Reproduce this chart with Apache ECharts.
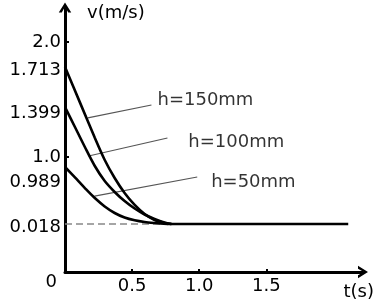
<!DOCTYPE html>
<html>
<head>
<meta charset="utf-8">
<script src="https://cdn.jsdelivr.net/npm/echarts@6/dist/echarts.min.js"></script>
<style>
  html, body { margin: 0; padding: 0; background: #fff; }
  #chart1 { width: 377px; height: 305px; }
</style>
</head>
<body>
<div id="chart1"></div>
<script>
// 그림 자체가 비례가 안 맞는 개략도라서 y는 그림 위치 기준 값, 눈금 글자는 따로 둠
const yTickPos = [0, 0.39, 0.78, 1.0, 1.383, 1.757, 2.0];
const yTickText = ['0', '0.018', '0.989', '1.0', '1.399', '1.713', '2.0'];
const yTickMarks = [1.0, 2.0];
const xTicks = [0.5, 1.0, 1.5];

// h=150mm
const t150 = [0, 0.111, 0.222, 0.296, 0.37, 0.444, 0.519, 0.593, 0.667, 0.741, 0.793];
const v150 = [1.783, 1.475, 1.167, 0.974, 0.817, 0.687, 0.583, 0.504, 0.452, 0.426, 0.417];
// h=100mm
const t100 = [0, 0.074, 0.148, 0.222, 0.296, 0.37, 0.444, 0.519, 0.593, 0.667, 0.741, 0.793];
const v100 = [1.435, 1.261, 1.087, 0.922, 0.791, 0.696, 0.617, 0.552, 0.5, 0.461, 0.43, 0.417];
// h=50mm
const t50 = [0, 0.074, 0.148, 0.222, 0.296, 0.37, 0.444, 0.519, 0.593, 0.667, 0.763];
const v50 = [0.913, 0.822, 0.73, 0.643, 0.57, 0.513, 0.474, 0.45, 0.435, 0.426, 0.417];
// 정상상태 (0.018)
const tFlat = [0.76, 2.11];
const vFlat = [0.417, 0.417];
const tDash = [0, 0.76];
const vDash = [0.417, 0.417];

// 지시선, 글자 위치
const hNames = ['h=150mm', 'h=100mm', 'h=50mm'];
const leadFrom = [[0.17, 1.34], [0.176, 1.009], [0.22, 0.66]];
const leadTo = [[0.644, 1.452], [0.763, 1.165], [0.985, 0.826]];
const nameAt = [[0.689, 1.496], [0.919, 1.13], [1.089, 0.783]];

const FONT = 'DejaVu Sans';
const zip = (xs, ys) => xs.map((x, i) => [x, ys[i]]);
const arrowPath = 'path://M5,0 L10,8 L7.6,8 L5,3.4 L2.4,8 L0,8 Z';

const curve = (name, xs, ys) => ({
  name: name,
  type: 'line',
  data: zip(xs, ys),
  smooth: 0.3,
  showSymbol: false,
  lineStyle: { color: '#000', width: 2.6 },
  z: 3
});

let series = [
  {
    type: 'line',
    data: zip(tDash, vDash),
    showSymbol: false,
    lineStyle: { color: '#888', width: 1.5, type: [7, 4] },
    z: 1
  },
  curve('h=150mm', t150, v150),
  curve('h=100mm', t100, v100),
  curve('h=50mm', t50, v50),
  {
    type: 'line',
    data: zip(tFlat, vFlat),
    showSymbol: false,
    lineStyle: { color: '#000', width: 2.6 },
    z: 3
  }
];

hNames.forEach((nm, i) => {
  series.push({
    type: 'line',
    data: [leadFrom[i], leadTo[i]],
    showSymbol: false,
    lineStyle: { color: '#555', width: 1.2 },
    z: 2
  });
});

series.push({
  type: 'scatter',
  data: nameAt.map((p, i) => ({ value: p, name: hNames[i] })),
  symbolSize: 0,
  label: {
    show: true,
    position: 'right',
    distance: 0,
    formatter: p => p.name,
    fontFamily: FONT,
    fontSize: 18,
    color: '#000'
  }
});

let myChart = echarts.init(document.getElementById('chart1'), null, { renderer: 'canvas' });
let option = {
  animation: false,
  grid: { left: 65, right: 12, top: 7.5, bottom: 33 },
  xAxis: {
    type: 'value',
    min: 0,
    max: 2.22,
    name: 't(s)',
    nameLocation: 'end',
    nameGap: 11,
    nameTextStyle: { fontFamily: FONT, fontSize: 18, color: '#000', align: 'right', verticalAlign: 'top', padding: [11, 0, 0, 0] },
    axisLine: { lineStyle: { color: '#000', width: 3 }, symbol: ['none', arrowPath], symbolSize: [14, 10] },
    axisTick: { show: true, inside: true, length: 3, lineStyle: { width: 2, color: '#000' }, customValues: xTicks },
    axisLabel: {
      customValues: xTicks,
      margin: 5,
      fontFamily: FONT, fontSize: 18, color: '#000',
      formatter: v => v.toFixed(1)
    },
    splitLine: { show: false }
  },
  yAxis: {
    type: 'value',
    min: 0,
    max: 2.3,
    name: 'v(m/s)',
    nameLocation: 'end',
    nameGap: -6,
    nameTextStyle: { fontFamily: FONT, fontSize: 18, color: '#000', align: 'left', verticalAlign: 'middle', padding: [0, 0, 0, 22] },
    axisLine: { lineStyle: { color: '#000', width: 3 }, symbol: ['none', arrowPath], symbolSize: [14, 10] },
    axisTick: { show: true, inside: true, length: 4, lineStyle: { width: 2, color: '#000' }, customValues: yTickMarks },
    axisLabel: {
      customValues: yTickPos,
      margin: 4,
      fontFamily: FONT, fontSize: 18, color: '#000',
      formatter: v => {
        let i = yTickPos.indexOf(v);
        let s = i >= 0 ? yTickText[i] : '';
        return s === '0' ? '{z|0}' : s;
      },
      rich: { z: { fontFamily: FONT, fontSize: 18, color: '#000', padding: [20, 4, 0, 0] } }
    },
    splitLine: { show: false }
  },
  series: series
};

if (option && typeof option === 'object') {
  myChart.setOption(option);
}
</script>
</body>
</html>
